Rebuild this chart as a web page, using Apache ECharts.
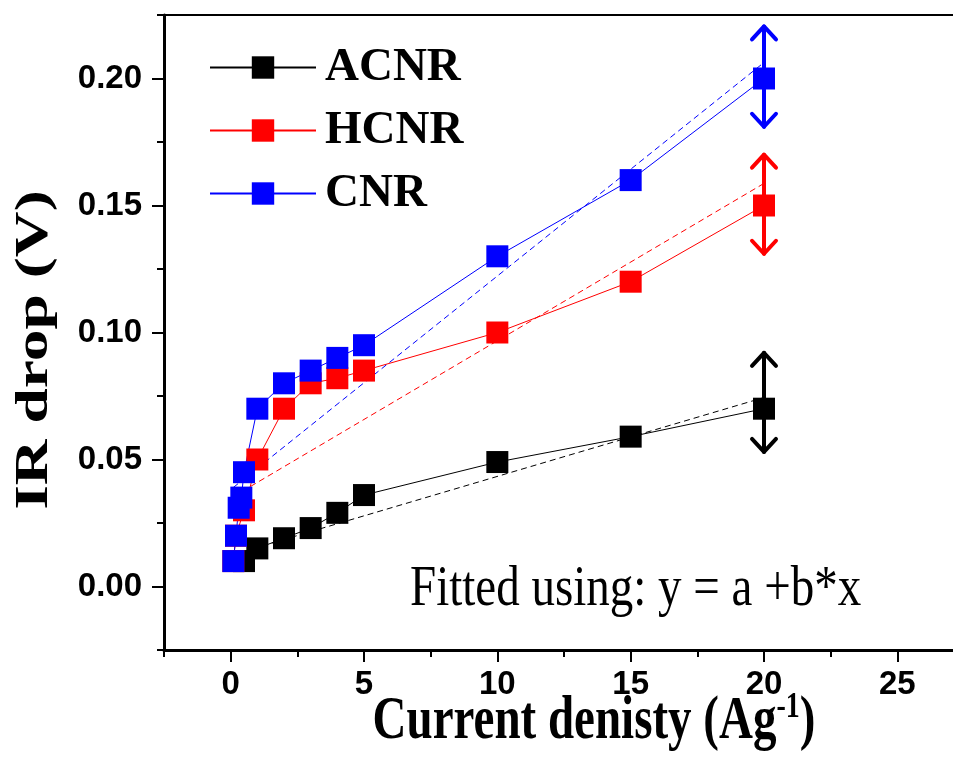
<!DOCTYPE html>
<html>
<head>
<meta charset="UTF-8">
<title>IR drop vs current density</title>
<script src="https://cdn.jsdelivr.net/npm/echarts@6/dist/echarts.min.js"></script>
<style>
    html, body { margin: 0; padding: 0; background: #fff; }
    #chart { width: 953px; height: 763px; }
</style>
</head>
<body>

<div id="chart"></div>

<script>
// measured data (current density in A/g, IR drop in V)
var acnrX = [0.5, 1, 2, 3, 4, 5, 10, 15, 20];
var acnrY = [0.010, 0.015, 0.019, 0.023, 0.029, 0.036, 0.049, 0.059, 0.070];

var hcnrX = [0.1, 0.2, 0.5, 1, 2, 3, 4, 5, 10, 15, 20];
var hcnrY = [0.010, 0.020, 0.030, 0.050, 0.070, 0.080, 0.082, 0.085, 0.100, 0.120, 0.150];

var cnrX = [0.1, 0.2, 0.3, 0.4, 0.5, 1, 2, 3, 4, 5, 10, 15, 20];
var cnrY = [0.010, 0.020, 0.031, 0.035, 0.045, 0.070, 0.080, 0.085, 0.090, 0.095, 0.130, 0.160, 0.200];

// linear fit lines, read at both ends
var fitX = [0.1, 20];
var acnrFit = [0.0126, 0.0744];
var hcnrFit = [0.0354, 0.1587];
var cnrFit = [0.0390, 0.2063];

// double arrows at the last point: [x, low, high]
var arrowX = [20, 20, 20];
var arrowLow = [0.053, 0.131, 0.181];
var arrowHigh = [0.092, 0.170, 0.2205];
var arrowColors = ['#000000', '#ff0000', '#0000ff'];

// axis ticks
var xMajor = [0, 5, 10, 15, 20, 25];
var xMinor = [-2.5, 2.5, 7.5, 12.5, 17.5, 22.5, 27.5];
var yMajor = [0, 0.05, 0.10, 0.15, 0.20];
var yMinor = [-0.025, 0.025, 0.075, 0.125, 0.175, 0.225];

function pairs(xs, ys) {
    return xs.map(function (x, i) { return [x, ys[i]]; });
}

var chart = echarts.init(document.getElementById('chart'));

var tickLabel = {
    fontFamily: 'Liberation Sans',
    fontWeight: 'bold',
    fontSize: 33,
    color: '#000'
};

function dataSeries(name, xs, ys, color) {
    return {
        name: name,
        type: 'line',
        data: pairs(xs, ys),
        symbol: 'rect',
        symbolSize: 22,
        itemStyle: { color: color },
        lineStyle: { color: color, width: 1 },
        silent: true
    };
}

function fitSeries(ys, color) {
    return {
        name: 'fit',
        type: 'line',
        data: pairs(fitX, ys),
        showSymbol: false,
        symbol: 'none',
        lineStyle: { color: color, width: 1, type: [6, 4] },
        silent: true
    };
}

var option = {
    animation: false,
    backgroundColor: '#fff',
    grid: {
        left: 164, width: 800, top: 15, bottom: 113,
        outerBoundsMode: 'none',
        show: true, borderColor: '#000', borderWidth: 2
    },
    legend: {
        data: ['ACNR', 'HCNR', 'CNR'],
        orient: 'vertical',
        left: 204,
        top: 39,
        itemWidth: 106,
        itemHeight: 28,
        itemGap: 16,
        selectedMode: false,
        textStyle: {
            fontFamily: 'Liberation Serif',
            fontWeight: 'bold',
            fontSize: 47,
            color: '#000',
            padding: [0, 0, 0, 4]
        }
    },
    xAxis: [{
        type: 'value', min: -2.5, max: 27.5, position: 'bottom',
        axisLine: { onZero: false, lineStyle: { color: '#000', width: 3 } },
        axisTick: { customValues: xMajor, length: 12, lineStyle: { color: '#000', width: 2 } },
        axisLabel: Object.assign({ customValues: xMajor, margin: 18 }, tickLabel),
        splitLine: { show: false }
    }, {
        type: 'value', min: -2.5, max: 27.5, position: 'bottom',
        axisLine: { show: false, onZero: false },
        axisTick: { customValues: xMinor, length: 7, lineStyle: { color: '#000', width: 2 } },
        axisLabel: { show: false },
        splitLine: { show: false }
    }],
    yAxis: [{
        type: 'value', min: -0.025, max: 0.225, position: 'left',
        axisLine: { show: true, onZero: false, lineStyle: { color: '#000', width: 3 } },
        axisTick: { show: true, customValues: yMajor, length: 12, lineStyle: { color: '#000', width: 2 } },
        axisLabel: Object.assign({
            customValues: yMajor, margin: 22,
            formatter: function (v) { return v.toFixed(2); }
        }, tickLabel),
        splitLine: { show: false }
    }, {
        type: 'value', min: -0.025, max: 0.225, position: 'left',
        axisLine: { show: false, onZero: false },
        axisTick: { show: true, customValues: yMinor, length: 7, lineStyle: { color: '#000', width: 2 } },
        axisLabel: { show: false },
        splitLine: { show: false }
    }],
    series: [
        dataSeries('ACNR', acnrX, acnrY, '#000000'),
        dataSeries('HCNR', hcnrX, hcnrY, '#ff0000'),
        dataSeries('CNR', cnrX, cnrY, '#0000ff'),
        fitSeries(acnrFit, '#000000'),
        fitSeries(hcnrFit, '#ff0000'),
        fitSeries(cnrFit, '#0000ff'),
        {
            name: 'arrows',
            type: 'custom',
            silent: true,
            data: arrowX.map(function (x, i) { return [x, arrowLow[i], arrowHigh[i]]; }),
            renderItem: function (params, api) {
                var lo = api.coord([api.value(0), api.value(1)]);
                var hi = api.coord([api.value(0), api.value(2)]);
                var st = {
                    stroke: arrowColors[params.dataIndex], fill: 'none',
                    lineWidth: 4, lineCap: 'round', lineJoin: 'round'
                };
                var w = 12, h = 13;
                return {
                    type: 'group',
                    children: [
                        { type: 'line', shape: { x1: lo[0], y1: lo[1], x2: hi[0], y2: hi[1] }, style: st },
                        { type: 'polyline', shape: { points: [[hi[0] - w, hi[1] + h], [hi[0], hi[1]], [hi[0] + w, hi[1] + h]] }, style: st },
                        { type: 'polyline', shape: { points: [[lo[0] - w, lo[1] - h], [lo[0], lo[1]], [lo[0] + w, lo[1] - h]] }, style: st }
                    ]
                };
            }
        }
    ],
    graphic: [
        {
            type: 'text', x: 594, y: 722, scaleY: 1.3, silent: true,
            style: {
                text: '{a|Current denisty (Ag}{s|-1}{a|)}',
                align: 'center', verticalAlign: 'middle',
                rich: {
                    a: { fontFamily: 'Liberation Serif', fontWeight: 'bold', fontSize: 47, lineHeight: 50, fill: '#000' },
                    s: { fontFamily: 'Liberation Serif', fontWeight: 'bold', fontSize: 28, lineHeight: 22, verticalAlign: 'top', fill: '#000' }
                }
            }
        },
        {
            type: 'text', x: 35, y: 350, rotation: Math.PI / 2, scaleX: 1.35, silent: true,
            style: {
                text: 'IR drop (V)',
                fontFamily: 'Liberation Serif', fontWeight: 'bold', fontSize: 47,
                fill: '#000', align: 'center', verticalAlign: 'middle'
            }
        },
        {
            type: 'text', x: 410, y: 590, scaleY: 1.2, silent: true,
            style: {
                text: 'Fitted using: y = a +b*x',
                fontFamily: 'Liberation Serif', fontSize: 47,
                fill: '#000', align: 'left', verticalAlign: 'middle'
            }
        }
    ]
};

chart.setOption(option);
</script>

</body>
</html>
